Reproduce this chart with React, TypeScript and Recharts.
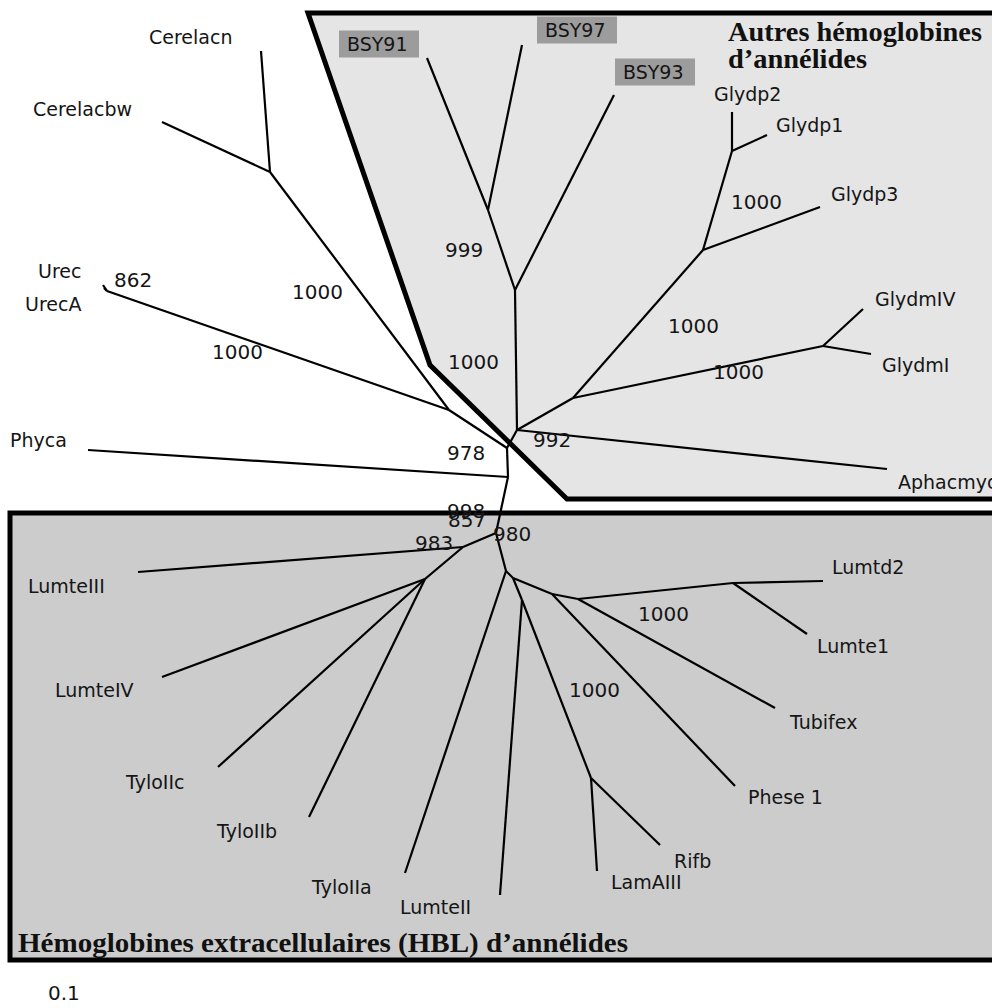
import { Area, ComposedChart, Line, Scatter, XAxis, YAxis } from "recharts";

// tree nodes (internal + branch tips), in picture units
const nodeIds = [
  "N1", "N2", "N3", "N4", "T0", "T1", "Tb", "G0", "Gp", "Gp12", "Gm", "Ce", "U",
  "L1", "L2", "R0", "R1", "R2", "R3", "R4", "R5", "R6",
  "Cerelacn", "Cerelacbw", "Urec", "UrecA", "Phyca", "BSY91", "BSY97", "BSY93",
  "Glydp2", "Glydp1", "Glydp3", "GlydmIV", "GlydmI", "Aphacmyo",
  "LumteIII", "LumteIV", "TyloIIc", "TyloIIb", "TyloIIa", "LumteII", "LamAIII",
  "Rifb", "Phese1", "Tubifex", "Lumtd2", "Lumte1",
];
const nodeX = [
  449, 507, 508, 496, 517, 515, 488, 573, 703, 732, 823, 270, 107,
  463, 425, 506, 513, 522, 591, 552, 578, 733,
  261, 162, 103, 104, 88, 427, 522, 614,
  732, 767, 820, 863, 871, 887,
  138, 162, 218, 309, 405, 500, 597,
  660, 735, 775, 823, 807,
];
const nodeY = [
  410, 448, 477, 533, 430, 290, 210, 398, 250, 151, 346, 172, 291,
  547, 579, 571, 578, 600, 778, 594, 599, 583,
  51, 122, 285, 288, 450, 58, 45, 95,
  112, 135, 207, 309, 354, 469,
  572, 677, 767, 817, 873, 895, 871,
  845, 786, 708, 581, 634,
];

const edgeFrom = [
  "N1", "Ce", "Ce", "N1", "U", "U", "N1", "N2", "N2", "N3", "N3",
  "T0", "T1", "Tb", "Tb", "T1", "T0", "G0", "Gp", "Gp12", "Gp12", "Gp",
  "G0", "Gm", "Gm", "T0",
  "N4", "L1", "L1", "L2", "L2", "L2", "N4", "R0", "R0", "R1", "R2", "R2",
  "R3", "R3", "R1", "R4", "R4", "R5", "R5", "R6", "R6",
];
const edgeTo = [
  "Ce", "Cerelacn", "Cerelacbw", "U", "Urec", "UrecA", "N2", "T0", "N3", "Phyca", "N4",
  "T1", "Tb", "BSY91", "BSY97", "BSY93", "G0", "Gp", "Gp12", "Glydp2", "Glydp1", "Glydp3",
  "Gm", "GlydmIV", "GlydmI", "Aphacmyo",
  "L1", "LumteIII", "L2", "LumteIV", "TyloIIc", "TyloIIb", "R0", "TyloIIa", "R1", "R2", "LumteII", "R3",
  "LamAIII", "Rifb", "R4", "Phese1", "R5", "Tubifex", "R6", "Lumtd2", "Lumte1",
];

// taxon labels
const taxonNames = [
  "Cerelacn", "Cerelacbw", "Urec", "UrecA", "Phyca", "BSY91", "BSY97", "BSY93",
  "Glydp2", "Glydp1", "Glydp3", "GlydmIV", "GlydmI", "Aphacmyo",
  "Lumtd2", "Lumte1", "Tubifex", "Phese 1", "Rifb", "LamAIII", "LumteII",
  "TyloIIa", "TyloIIb", "TyloIIc", "LumteIV", "LumteIII",
];
const taxonX = [
  149, 33, 38, 25, 10, 347, 545, 623,
  714, 776, 831, 875, 882, 898,
  832, 817, 790, 748, 674, 611, 400,
  312, 217, 126, 55, 28,
];
const taxonY = [
  37, 109, 271, 304, 440, 44, 30, 72,
  94, 125, 194, 299, 365, 482,
  567, 646, 722, 797, 861, 882, 907,
  887, 831, 782, 690, 586,
];
const boxedTaxa = ["BSY91", "BSY97", "BSY93"];

// bootstrap values
const supportValues = [
  "1000", "862", "1000", "999", "1000", "1000", "1000", "1000",
  "992", "978", "998", "857", "983", "980", "1000", "1000",
];
const supportX = [292, 114, 212, 445, 448, 731, 668, 713, 533, 447, 447, 448, 415, 493, 638, 569];
const supportY = [292, 280, 352, 250, 362, 202, 326, 372, 440, 453, 511, 520, 543, 534, 614, 690];

// shaded groups
const upperGroupX = [308, 430, 567, 992];
const upperGroupTop = [13, 13, 13, 13];
const upperGroupBottom = [13, 365, 499, 499];
const lowerGroupX = [10, 992];
const lowerGroupTop = [513, 513];
const lowerGroupBottom = [960, 960];

const titles = ["Autres hémoglobines", "d\u2019annélides", "Hémoglobines extracellulaires (HBL) d\u2019annélides"];
const titleX = [728, 728, 18];
const titleY = [41, 68, 952];
const titleWidths = [254, 139, 610];
const scaleLabel = "0.1";

const W = 992;
const H = 1008;
const FONT = "'DejaVu Sans', sans-serif";

const pos = (id: string) => {
  const i = nodeIds.indexOf(id);
  return { x: nodeX[i], y: nodeY[i] };
};

const edges = edgeFrom.map((f, i) => [pos(f), pos(edgeTo[i])]);
const upperData = upperGroupX.map((x, i) => ({ x, r: [upperGroupTop[i], upperGroupBottom[i]] }));
const lowerData = lowerGroupX.map((x, i) => ({ x, r: [lowerGroupTop[i], lowerGroupBottom[i]] }));
const upperBorder = [
  { x: 992, y: upperGroupTop[0] },
  ...upperGroupX.map((x, i) => ({ x, y: upperGroupBottom[i] })),
];
const lowerBorder = [
  { x: 992, y: lowerGroupTop[0] },
  { x: lowerGroupX[0], y: lowerGroupTop[0] },
  { x: lowerGroupX[0], y: lowerGroupBottom[0] },
  { x: 992, y: lowerGroupBottom[0] },
];
const taxonData = taxonNames.map((name, i) => ({ name, x: taxonX[i], y: taxonY[i] }));
const supportData = supportValues.map((name, i) => ({ name, x: supportX[i], y: supportY[i] }));
const titleData = titles.map((name, i) => ({ name, x: titleX[i], y: titleY[i], i }));

function TaxonLabel(props: any) {
  const { cx, cy, payload } = props;
  const boxed = boxedTaxa.includes(payload.name);
  return (
    <g>
      {boxed && <rect x={cx - 8} y={cy - 13.5} width={80} height={27} fill="#9c9c9c" />}
      <text x={cx} y={cy} dy="0.36em" fontSize={19} fontFamily={FONT} fill="#151515">
        {payload.name}
      </text>
    </g>
  );
}

function SupportLabel(props: any) {
  const { cx, cy, payload } = props;
  return (
    <text x={cx} y={cy} dy="0.36em" fontSize={20} fontFamily={FONT} fill="#151515">
      {payload.name}
    </text>
  );
}

function TitleLabel(props: any) {
  const { cx, cy, payload } = props;
  return (
    <text
      x={cx}
      y={cy}
      fontSize={27}
      fontWeight="bold"
      fontFamily="'Liberation Serif', 'Times New Roman', serif"
      fill="#111"
      textLength={titleWidths[payload.i]}
      lengthAdjust="spacingAndGlyphs"
    >
      {payload.name}
    </text>
  );
}

const noDot = { dot: false as const, activeDot: false as const };

export default function App() {
  return (
    <div style={{ position: "absolute", left: 0, top: 0, width: W, height: H, background: "#fff" }}>
      <ComposedChart width={W} height={H} margin={{ top: 0, right: 0, bottom: 0, left: 0 }}>
        <XAxis type="number" dataKey="x" domain={[0, W]} hide allowDataOverflow />
        <YAxis type="number" dataKey="y" domain={[0, H]} reversed hide allowDataOverflow />
        <Area data={upperData} dataKey="r" type="linear" fill="#e5e5e5" fillOpacity={1} stroke="none" {...noDot} isAnimationActive={false} />
        <Area data={lowerData} dataKey="r" type="linear" fill="#cccccc" fillOpacity={1} stroke="none" {...noDot} isAnimationActive={false} />
        {edges.map((seg, i) => (
          <Line
            key={i}
            data={seg}
            dataKey="y"
            type="linear"
            stroke="#000"
            strokeWidth={2.2}
            {...noDot}
            isAnimationActive={false}
          />
        ))}
        <Scatter data={taxonData} dataKey="y" shape={TaxonLabel} isAnimationActive={false} />
        <Scatter data={supportData} dataKey="y" shape={SupportLabel} isAnimationActive={false} />
        <Scatter data={titleData} dataKey="y" shape={TitleLabel} isAnimationActive={false} />
        <Scatter
          data={[{ name: scaleLabel, x: 48, y: 993 }]}
          dataKey="y"
          shape={SupportLabel}
          isAnimationActive={false}
        />
        <Line data={upperBorder} dataKey="y" type="linear" stroke="#000" strokeWidth={5} {...noDot} isAnimationActive={false} />
        <Line data={lowerBorder} dataKey="y" type="linear" stroke="#000" strokeWidth={5} {...noDot} isAnimationActive={false} />
      </ComposedChart>
    </div>
  );
}
